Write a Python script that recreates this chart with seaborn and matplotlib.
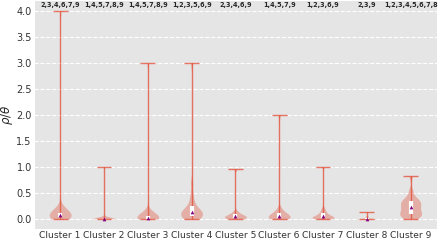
import matplotlib
matplotlib.use("Agg")
import matplotlib.pyplot as plt
import numpy as np
import pandas as pd
import seaborn as sns

# ratio samples per cluster
clusters = ["Cluster 1", "Cluster 2", "Cluster 3", "Cluster 4", "Cluster 5",
            "Cluster 6", "Cluster 7", "Cluster 8", "Cluster 9"]

c1 = [0.0, 0.0, 0.01, 0.02, 0.03, 0.04, 0.05, 0.05, 0.06, 0.07, 0.08, 0.09,
      0.1, 0.1, 0.11, 0.12, 0.14, 0.16, 0.2, 4.0]
c2 = [0.0, 0.0, 0.0, 0.0, 0.0, 0.0, 0.0, 0.0, 0.0, 0.0, 0.0, 0.0,
      0.0, 0.0, 0.01, 0.01, 0.02, 1.0]
c3 = [0.0, 0.0, 0.0, 0.0, 0.0, 0.01, 0.01, 0.02, 0.02, 0.03, 0.04, 0.05,
      0.06, 0.07, 0.09, 0.12, 3.0]
c4 = [0.0, 0.0, 0.01, 0.02, 0.04, 0.06, 0.08, 0.1, 0.12, 0.13, 0.14, 0.15,
      0.17, 0.2, 0.24, 0.3, 0.38, 0.5, 0.7, 3.0]
c5 = [0.0, 0.0, 0.0, 0.01, 0.02, 0.03, 0.04, 0.05, 0.05, 0.06, 0.07, 0.08,
      0.1, 0.12, 0.15, 0.95]
c6 = [0.0, 0.0, 0.0, 0.01, 0.02, 0.03, 0.04, 0.04, 0.05, 0.06, 0.08, 0.1,
      0.12, 0.15, 0.2, 2.0]
c7 = [0.0, 0.0, 0.0, 0.01, 0.02, 0.03, 0.04, 0.04, 0.05, 0.06, 0.08, 0.1,
      0.12, 0.16, 0.2, 1.0]
c8 = [0.0, 0.0, 0.0, 0.0, 0.0, 0.0, 0.0, 0.01, 0.01, 0.02, 0.03, 0.05, 0.13]
c9 = [0.0, 0.02, 0.05, 0.07, 0.08, 0.1, 0.12, 0.15, 0.18, 0.2, 0.22, 0.25,
      0.28, 0.3, 0.32, 0.34, 0.36, 0.4, 0.45, 0.55, 0.82]

# clusters that differ significantly (labels above each violin)
sig_labels = ["2,3,4,6,7,9", "1,4,5,7,8,9", "1,4,5,7,8,9", "1,2,3,5,6,9",
              "2,3,4,6,9", "1,4,5,7,9", "1,2,3,6,9", "2,3,9", "1,2,3,4,5,6,7,8"]

samples = [c1, c2, c3, c4, c5, c6, c7, c8, c9]
df = pd.DataFrame({
    "cluster": [name for name, vals in zip(clusters, samples) for _ in vals],
    "ratio": [v for vals in samples for v in vals],
})

sns.set_style("darkgrid", {"axes.facecolor": "#E5E5E5", "grid.color": "white",
                           "grid.linestyle": "--", "grid.linewidth": 0.6})
red = "#E24A33"

fig = plt.figure(figsize=(4.4, 2.42), dpi=100)
ax = fig.add_axes([0.077, 0.055, 0.916, 0.945])

# spiky clusters get a narrow kernel, cluster 9 a smoother one
spiky = df[df["cluster"] != "Cluster 9"]
broad = df[df["cluster"] == "Cluster 9"]
violin_kw = dict(x="cluster", y="ratio", order=clusters, color=red, inner=None,
                 cut=0, density_norm="width", width=0.5, linewidth=0,
                 saturation=1, ax=ax)
sns.violinplot(data=spiky, bw_adjust=0.22, **violin_kw)
sns.violinplot(data=broad, bw_adjust=0.55, **violin_kw)
for coll in ax.collections:
    coll.set_alpha(0.35)

for i, vals in enumerate(samples):
    arr = np.array(vals)
    lo, hi = arr.min(), arr.max()
    q1, med, q3 = np.percentile(arr, [25, 50, 75])
    ax.vlines(i, lo, hi, color=red, lw=1, alpha=0.75, zorder=3)
    ax.hlines([lo, hi], i - 0.17, i + 0.17, color=red, lw=1, alpha=0.75, zorder=3)
    ax.vlines(i, q1, q3, color="white", lw=3, zorder=4)
    ax.scatter(i, med, marker="^", color="purple", s=7, zorder=5, linewidths=0)
    ax.text(i, 4.11, sig_labels[i], ha="center", va="center",
            fontsize=4.7, fontweight="bold")

ax.set_xlim(-0.6, 8.6)
ax.set_ylim(-0.19, 4.21)
ax.set_yticks(np.arange(0, 4.01, 0.5))
ax.set_yticklabels([f"{t:.1f}" for t in np.arange(0, 4.01, 0.5)])
ax.set_xlabel("")
ax.set_ylabel(r"$\rho/\theta$", fontsize=8.5, labelpad=1)
ax.tick_params(axis="y", labelsize=7, pad=1.5, length=0)
ax.tick_params(axis="x", labelsize=6.6, pad=1.5, length=0)
for lab in ax.get_xticklabels() + ax.get_yticklabels():
    lab.set_color("#333333")

fig.savefig("out.png", dpi=100)
